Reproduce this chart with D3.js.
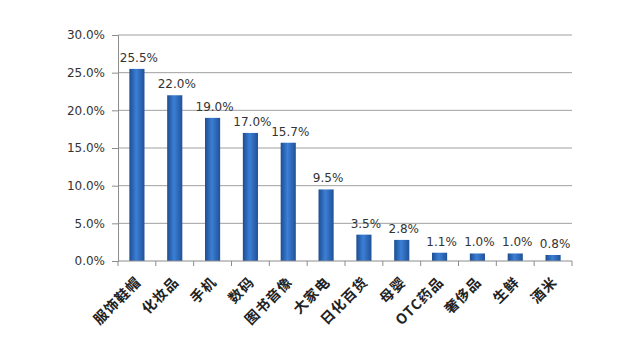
<!DOCTYPE html>
<html>
<head>
<meta charset="utf-8">
<script src="https://cdn.jsdelivr.net/npm/d3@7"></script>
<style>
  body { margin: 0; background: #fff; }
  svg { display: block; }
</style>
</head>
<body>
<div id="chart"></div>
<script>
// data
var categories = ["服饰鞋帽", "化妆品", "手机", "数码", "图书音像", "大家电", "日化百货", "母婴", "OTC药品", "奢侈品", "生鲜", "酒米"];
var shares = [25.5, 22.0, 19.0, 17.0, 15.7, 9.5, 3.5, 2.8, 1.1, 1.0, 1.0, 0.8];
var yTicks = [0, 5, 10, 15, 20, 25, 30];

var w = 640, h = 353;
var mLeft = 118, mRight = 572, mTop = 35, mBottom = 261;

var svg = d3.select("#chart").append("svg")
    .attr("width", w)
    .attr("height", h);

var defs = svg.append("defs");
var grad = defs.append("linearGradient")
    .attr("id", "barGrad")
    .attr("x1", "0%").attr("x2", "100%")
    .attr("y1", "0%").attr("y2", "0%");
grad.append("stop").attr("offset", "0%").attr("stop-color", "#1c4d92");
grad.append("stop").attr("offset", "45%").attr("stop-color", "#3c7fd6");
grad.append("stop").attr("offset", "100%").attr("stop-color", "#1f5298");

var xScale = d3.scaleBand()
    .domain(categories)
    .range([mLeft, mRight])
    .paddingInner(0.6)
    .paddingOuter(0.3);

var yScale = d3.scaleLinear()
    .domain([0, 30])
    .range([mBottom, mTop]);

// gridlines
svg.append("g")
    .selectAll("line")
    .data(yTicks.filter(function(d) { return d > 0; }))
    .enter()
    .append("line")
    .attr("x1", mLeft)
    .attr("x2", mRight)
    .attr("y1", function(d) { return yScale(d); })
    .attr("y2", function(d) { return yScale(d); })
    .attr("stroke", "#a0a0a0")
    .attr("stroke-width", 1);

// y axis
var yAxis = d3.axisLeft(yScale)
    .tickValues(yTicks)
    .tickSize(6)
    .tickPadding(7)
    .tickFormat(function(d) { return d.toFixed(1) + "%"; });

var gy = svg.append("g")
    .attr("transform", "translate(" + mLeft + ",0)")
    .call(yAxis);
gy.select(".domain").attr("stroke", "#8c8c8c");
gy.selectAll(".tick line").attr("stroke", "#8c8c8c");
gy.selectAll("text")
    .attr("font-family", "'DejaVu Sans', Verdana, sans-serif")
    .attr("font-size", 12)
    .attr("fill", "#333");

// bars
svg.selectAll("rect.bar")
    .data(shares)
    .enter()
    .append("rect")
    .attr("class", "bar")
    .attr("x", function(d, i) { return xScale(categories[i]); })
    .attr("y", function(d) { return yScale(d); })
    .attr("width", xScale.bandwidth())
    .attr("height", function(d) { return mBottom - yScale(d); })
    .attr("fill", "url(#barGrad)");

// value labels
svg.selectAll("text.val")
    .data(shares)
    .enter()
    .append("text")
    .attr("class", "val")
    .attr("text-anchor", "middle")
    .attr("x", function(d, i) { return xScale(categories[i]) + xScale.bandwidth() / 2 + 2; })
    .attr("y", function(d) { return yScale(d) - 7; })
    .attr("font-family", "'DejaVu Sans', Verdana, sans-serif")
    .attr("font-size", 12)
    .attr("fill", "#333")
    .text(function(d) { return d.toFixed(1) + "%"; });

// x axis line and ticks between categories
var gx = svg.append("g");
gx.append("line")
    .attr("x1", mLeft).attr("x2", mRight)
    .attr("y1", mBottom).attr("y2", mBottom)
    .attr("stroke", "#8c8c8c");
gx.selectAll("line.tk")
    .data(d3.range(categories.length + 1))
    .enter()
    .append("line")
    .attr("class", "tk")
    .attr("x1", function(i) { return mLeft + i * xScale.step(); })
    .attr("x2", function(i) { return mLeft + i * xScale.step(); })
    .attr("y1", mBottom)
    .attr("y2", mBottom + 5)
    .attr("stroke", "#8c8c8c");

// category labels, rotated
svg.selectAll("text.cat")
    .data(categories)
    .enter()
    .append("text")
    .attr("class", "cat")
    .attr("text-anchor", "end")
    .attr("transform", function(d) {
        var x = xScale(d) + xScale.bandwidth() / 2 + 5;
        return "translate(" + x + "," + (mBottom + 22) + ") rotate(-45)";
    })
    .attr("font-family", "'Noto Sans CJK SC', sans-serif")
    .attr("font-weight", "bold")
    .attr("font-size", 14)
    .attr("letter-spacing", 1)
    .attr("fill", "#222")
    .text(function(d) { return d; });
</script>
</body>
</html>
